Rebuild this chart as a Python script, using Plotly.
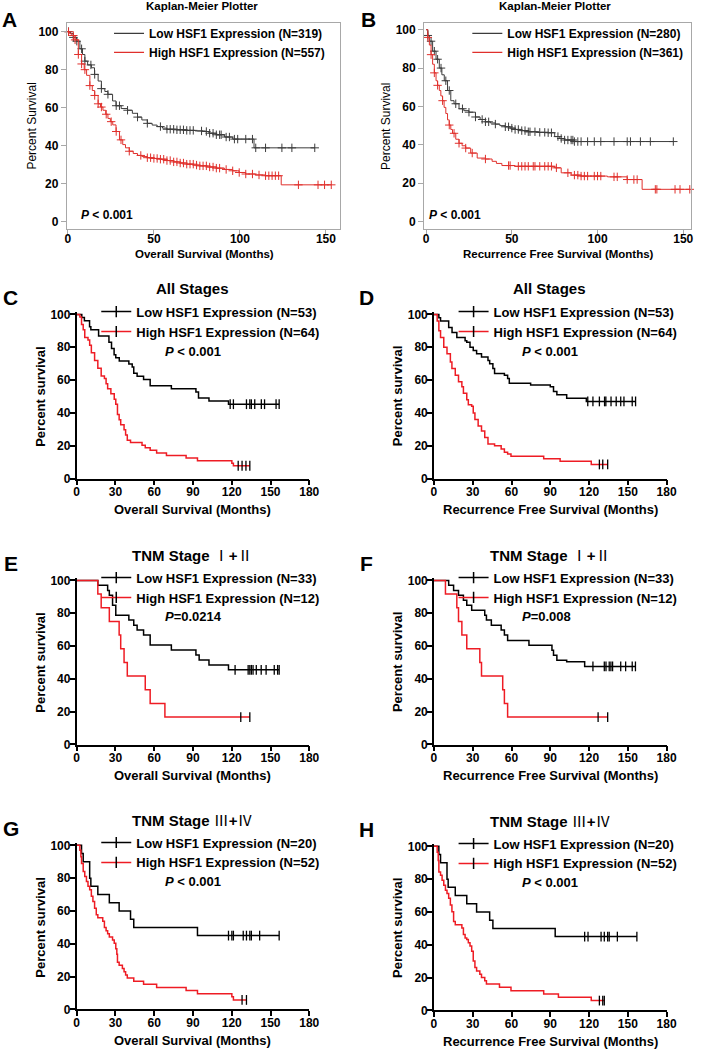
import numpy as np
import plotly.graph_objects as go

W, H = 709, 1056
FONT = "Liberation Sans, Arial, sans-serif"

# ---------------- data (months, percent survival, censor times) ----------------
# Panel A - Kaplan-Meier Plotter, overall survival
A_low_t = [0, 1.5, 3.2, 5.2, 7.0, 8.5, 9.9, 11.5, 13.7, 15.5, 17.6, 19.5, 21.5, 23.3, 26, 28, 31, 34.7, 37.5, 40.5,
           43, 46.2, 49, 51.9, 55, 57.6, 63, 69, 74, 78.6, 82, 86.3, 91, 95.8, 108.2]
A_low_s = [100, 99, 97, 95, 91, 88, 84.5, 82.5, 81, 77.5, 74, 70, 68.5, 67, 63.5, 61, 59.5, 58.6, 57, 55,
           53.5, 51.7, 50.8, 50, 49.2, 48.6, 48.3, 48, 47.7, 47.4, 46.5, 45.7, 44.5, 43.4, 38.8]
A_low_c = [0.4, 3.2, 5.2, 8.0, 9.9, 13.4, 15.6, 19.5, 23.3, 28.1, 30, 34.7, 40.5, 46.2, 53.8, 57.6, 59.5, 61.5,
           63.4, 65.3, 67.2, 69.1, 71, 72.9, 77.7, 80.5, 82.4, 84.4, 86.3, 88.2, 89.1, 92, 93.9, 96.8, 98.7,
           103.4, 107.3, 109.2, 114.9, 124.4, 130.2, 143.5]
A_high_t = [0, 1, 2.3, 4.2, 6.1, 8, 9.5, 10.9, 12.8, 14.2, 15.6, 17.6, 19, 20.4, 22, 23.3, 24.7, 26.1, 28, 30,
            31.9, 33.5, 35.7, 38, 40.5, 43, 46.2, 50, 53.8, 57.5, 61.5, 65, 69.1, 73, 76.7, 81, 86.3, 91, 95.8,
            99.5, 103.4, 109, 114.9, 124]
A_high_s = [100, 99, 98, 95.7, 88, 83, 80, 77, 71.6, 69, 66.4, 62, 60.3, 58.6, 56.5, 54.3, 52.6, 50.9, 47.4, 43,
            40.5, 38.8, 37, 35.8, 34.8, 34.2, 33.6, 33.2, 32.8, 32.1, 31.4, 30.8, 30.2, 29.7, 29.3, 28.7, 28.1,
            27.4, 26.7, 25.8, 25, 24.5, 24.1, 19.3]
A_high_c = [0.4, 3.2, 4.2, 6.1, 8.0, 9.9, 12.8, 15.6, 17.6, 19.5, 22.3, 25.2, 28.1, 30.9, 35.7, 42.4, 46.2, 48.1,
            50, 51.9, 53.8, 55.7, 57.6, 59.5, 61.5, 63.4, 65.3, 67.2, 69.1, 71, 72.9, 74.8, 76.7, 78.6, 80.5, 82.4,
            84.4, 86.3, 88.2, 92, 95.8, 99.6, 103.4, 107.3, 111.1, 114.9, 116.8, 118.7, 120.6, 122.5, 134, 145.4,
            149.2, 153.1]

# Panel B - Kaplan-Meier Plotter, recurrence free survival
B_low_t = [0, 1, 1.9, 3.8, 5.8, 7.7, 9.2, 10.6, 12.5, 14.4, 16.3, 19.2, 22, 25, 28.8, 31.5, 34.6, 37.5, 40.4, 43,
           46.2, 49, 51.9, 55.5, 59.6, 65, 71.2, 75, 78, 80.8, 86.5]
B_low_s = [100, 97, 94, 88.8, 84.6, 80, 76.5, 73.4, 68.3, 63, 61.4, 58.8, 57.8, 57, 54.5, 53.2, 52, 51.4, 50.8, 50,
           49.4, 48.7, 48, 47.4, 46.8, 46.5, 46.3, 44.3, 43.3, 42.5, 41.7]
B_low_c = [1, 2.9, 4.8, 6.7, 8.7, 11.5, 13.5, 17.3, 21.2, 25, 28.8, 32.7, 34.6, 36.5, 40.4, 46.2, 48.1, 50, 51.9,
           53.8, 55.8, 57.7, 59.6, 60.6, 63.5, 66.3, 69.2, 71.2, 73.1, 76.9, 78.8, 80.8, 82.7, 84.6, 85.6, 86.5,
           88.5, 90.4, 94.2, 98.1, 101.9, 109.6, 117.3, 119.2, 125, 130.8, 144.2]
B_high_t = [0, 1, 1.9, 2.9, 3.8, 4.8, 5.8, 6.7, 7.7, 8.6, 9.6, 10.5, 11.5, 12.5, 13.5, 14.4, 15.4, 17.3, 19.2, 21,
            23.1, 26, 29.8, 34.6, 38.5, 41, 44.2, 51.9, 75, 78.8, 84.6, 90.4, 105.8, 117.3, 126]
B_high_s = [100, 96, 92, 87, 82, 77.5, 73.4, 71, 68.3, 65.5, 63, 59.5, 56.3, 53, 50.3, 48, 46, 42.9, 40.8, 39.5,
            38.3, 35.7, 33.1, 32.6, 31.4, 30.3, 29.2, 28.8, 28.0, 25.4, 24.2, 23.7, 23.3, 21.9, 16.8]
B_high_c = [1, 2.9, 4.8, 6.7, 9.6, 13.5, 16.3, 19.2, 23.1, 26.9, 34.6, 48.1, 49, 53.8, 55.8, 57.7, 59.6, 62.5,
            63.5, 66.3, 69.2, 71.2, 73.1, 76, 82.7, 86.5, 88.5, 90.4, 92.3, 94.2, 98.1, 100, 101.9, 109.6, 111.5,
            117.3, 121.2, 123.1, 133.7, 134.6, 145.2, 148.1, 153.8]

# Panel C - All stages, overall survival
C_low_t = [0, 4, 6, 10, 11, 17, 25, 27, 29, 30.3, 33, 40.4, 43, 44.2, 46.8, 51.8, 56.9, 73.3, 92.3, 94.3, 102.4, 117.5]
C_low_s = [100, 98.1, 96.2, 92.5, 90.6, 86.8, 83.0, 79.2, 75.5, 73.6, 71.7, 69.8, 67.9, 64.2, 62.3, 60.4, 56.6,
           54.7, 52.8, 49.1, 47.2, 45.3]
C_low_c = [118.8, 121.3, 131.4, 134, 135.2, 137.8, 142.9, 145.4, 154.3, 156.7]
C_high_t = [0, 2.5, 3.8, 5.1, 6.3, 8.8, 10.1, 11.4, 13.9, 16.4, 19, 21.5, 22.8, 24, 26.5, 29.1, 30.3, 31.6, 32.9,
            34.1, 36.7, 37.9, 39.2, 41.7, 50.6, 53.1, 56.9, 61.9, 69.5, 84.7, 93.5, 120.1, 121.3]
C_high_s = [100, 98.4, 93.8, 90.6, 86, 84.4, 81.3, 76.6, 71.9, 67.2, 62.5, 60.9, 57.8, 54.7, 51.6, 48.4, 45.3, 39.1,
            35.9, 32.8, 29.7, 26.6, 23.4, 21.9, 20.3, 18.8, 17.2, 15.6, 14.1, 12.5, 10.9, 9.4, 7.8]
C_high_c = [125, 128, 131, 134]

# Panel D - All stages, recurrence free survival
D_low_t = [0, 3.8, 5.1, 11.4, 14, 17.7, 24.1, 25.4, 27.9, 30.4, 33, 36.8, 41.8, 43.1, 45.6, 46.9, 54.5, 57, 58.3,
           74.8, 90, 92.5, 95.1, 102.7, 117.9]
D_low_s = [100, 98, 96, 92, 89, 86, 84, 83, 80, 78, 76, 74, 72, 70, 67, 64, 63, 61, 58, 57, 56, 53, 51, 49, 47]
D_low_c = [119, 123, 128, 132, 133, 137, 141, 144.5, 147, 153.4, 156]
D_high_t = [0, 2.5, 3.8, 5.1, 7.6, 10.1, 12.7, 13.9, 16.5, 19, 21.6, 22.8, 25.4, 26.6, 29.2, 30.4, 31.7, 34.2, 36.8,
            39.3, 41.8, 46.9, 52, 54.5, 57, 59.6, 84.9, 97.6, 121.7]
D_high_s = [100, 96, 90, 86, 80, 76, 71, 67, 63, 59, 56, 52, 48, 45, 44, 40, 36, 32, 29, 25, 21, 20, 18, 16, 15,
            13.6, 12, 10.6, 8.6]
D_high_c = [128, 130.6, 134.4]

# Panel E - TNM I+II, overall survival
E_low_t = [0, 16.4, 24, 25.3, 27.8, 30.3, 40.4, 44.2, 46.8, 51.8, 56.9, 73.3, 92.3, 94.8, 102.4, 117.5]
E_low_s = [100, 97, 93.9, 90.9, 84.8, 78.8, 75.8, 72.7, 69.7, 66.7, 60.6, 57.6, 54.5, 51.5, 48.5, 45.5]
E_low_c = [122.6, 132.7, 134, 135.2, 136.5, 139, 142.8, 146.6, 152.9, 155.5, 156.7]
E_high_t = [0, 16.4, 19, 25.3, 32.9, 34.1, 36.7, 39.2, 53.1, 56.9, 68.3]
E_high_s = [100, 91.7, 83.3, 75, 66.7, 58.3, 50, 41.7, 33.3, 25, 16.7]
E_high_c = [127, 134]

# Panel F - TNM I+II, recurrence free survival
F_low_t = [0, 11.4, 15.2, 19, 22.8, 25.4, 29.2, 39.3, 40.6, 44.4, 52, 54.5, 57, 73.5, 91.3, 92.5, 95.1, 102.7, 116.6]
F_low_s = [100, 97, 93.9, 90.9, 87.9, 84.8, 81.8, 78.8, 75.8, 72.7, 69.7, 66.7, 63.4, 60.4, 57.4, 54.4, 51.4, 50.4,
           47.6]
F_low_c = [123, 131.8, 133.1, 135.6, 136.9, 138.2, 144.5, 148.3, 153.4, 155.9]
F_high_t = [0, 8.9, 17.7, 19, 21.6, 25.4, 35.5, 36.8, 53.2, 54.5, 57]
F_high_s = [100, 91.7, 83.3, 75, 66.7, 58.3, 50, 41.7, 33.3, 25, 16.7]
F_high_c = [127, 134.4]

# Panel G - TNM III+IV, overall survival
G_low_t = [0, 3.8, 5.1, 10.1, 11.0, 16.4, 25.3, 32.9, 41.7, 44.2, 93.5]
G_low_s = [100, 95, 90, 80, 75, 70, 65, 60, 55, 50, 45]
G_low_c = [117.5, 120.1, 121.3, 128.9, 131.4, 134, 135.2, 141.6, 156.7]
G_high_t = [0, 2.5, 3.3, 3.8, 5.1, 6.3, 7.6, 8.8, 10.1, 11.4, 12.6, 13.9, 15.2, 16.4, 20.2, 21.5, 22.8, 24.0, 25.3,
            27.8, 29.1, 30.3, 31.1, 31.6, 32.9, 35.4, 36.7, 37.9, 39.2, 44.2, 51.8, 61.9, 84.7, 93.5, 120.1, 121.3]
G_high_s = [100, 97, 93, 89, 84, 81, 78, 75, 73, 69, 65.8, 61.6, 57.7, 55.8, 53.8, 50, 48, 46.2, 44.2, 42.3, 40.4,
            37, 33.6, 28.8, 26.9, 24.9, 23, 21, 19.1, 17.2, 15.3, 13.4, 11.5, 9.6, 7.7, 5.8]
G_high_c = [128, 131.4]

# Panel H - TNM III+IV, recurrence free survival
H_low_t = [0, 3.8, 5.1, 10.1, 11.0, 16.5, 25.4, 33, 43.1, 45.6, 93.8]
H_low_s = [100, 95, 90, 80, 75, 70, 65, 60, 55, 50, 45]
H_low_c = [116.6, 119.2, 129.3, 131.8, 134.4, 135.6, 141.9, 157]
H_high_t = [0, 2.5, 3.3, 3.8, 5.1, 6.3, 7.6, 8.9, 10.1, 11.4, 12.7, 13.9, 15.2, 16.5, 21.6, 22.8, 24.1, 25.4, 26.6,
            27.9, 29.2, 30.4, 31.7, 33, 35.5, 36.8, 39.3, 40.6, 50.7, 59.6, 84.9, 96.3, 121.7]
H_high_s = [100, 96.4, 91.4, 84.3, 82.3, 79.3, 76.3, 73.3, 71.3, 68.3, 64.3, 60.2, 54.2, 52.2, 50.2, 46.2, 44.2,
            43.2, 41.2, 39.2, 36.1, 30.1, 26.1, 24.1, 22.1, 20.1, 18.1, 16.1, 14.1, 12, 10, 8, 6]
H_high_c = [128, 130.6, 131.8]

# legend labels, titles, p-values
A_labels = ["Low HSF1 Expression (N=319)", "High HSF1 Expression (N=557)"]
B_labels = ["Low HSF1 Expression (N=280)", "High HSF1 Expression (N=361)"]
CD_labels = ["Low HSF1 Expression (N=53)", "High HSF1 Expression (N=64)"]
EF_labels = ["Low HSF1 Expression (N=33)", "High HSF1 Expression (N=12)"]
GH_labels = ["Low HSF1 Expression (N=20)", "High HSF1 Expression (N=52)"]
P_values = {"A": " < 0.001", "B": " < 0.001", "C": " < 0.001", "D": " < 0.001",
            "E": "=0.0214", "F": "=0.008", "G": " < 0.001", "H": " < 0.001"}
KM_ticks_x = [0, 50, 100, 150]
KM_ticks_y = [0, 20, 40, 60, 80, 100]
GP_ticks_x = [0, 30, 60, 90, 120, 150, 180]
GP_ticks_y = [0, 20, 40, 60, 80, 100]
OS_title = "Overall Survival (Months)"
RFS_title = "Recurrence Free Survival (Months)"

ROM = '<span style="font-family:Noto Sans CJK SC;font-weight:normal">{}</span>'
STAGE12 = "TNM Stage " + ROM.format("Ⅰ") + "+" + ROM.format("Ⅱ")
STAGE34 = "TNM Stage " + ROM.format("Ⅲ") + "+" + ROM.format("Ⅳ")

# ---------------- layout (pixel geometry) ----------------
panels = [
    dict(key="A", style="km", xd=(65, 343), yd=(18, 227), xr=(-0.6, 158), yr=(-4.2, 104.7),
         labels=A_labels, low=(A_low_t, A_low_s, A_low_c), high=(A_high_t, A_high_s, A_high_c),
         title="Kaplan-Meier Plotter", xtitle=OS_title),
    dict(key="B", style="km", xd=(429, 701), yd=(18, 227), xr=(-1.15, 154.6), yr=(-4.1, 103.6),
         labels=B_labels, low=(B_low_t, B_low_s, B_low_c), high=(B_high_t, B_high_s, B_high_c),
         title="Kaplan-Meier Plotter", xtitle=RFS_title),
    dict(key="C", style="gp", xd=(75, 312), yd=(311, 479), xr=(0, 180), yr=(0, 101.2),
         labels=CD_labels, low=(C_low_t, C_low_s, C_low_c), high=(C_high_t, C_high_s, C_high_c),
         title="All Stages", xtitle=OS_title),
    dict(key="D", style="gp", xd=(439, 676), yd=(311, 479), xr=(0, 180), yr=(0, 101.2),
         labels=CD_labels, low=(D_low_t, D_low_s, D_low_c), high=(D_high_t, D_high_s, D_high_c),
         title="All Stages", xtitle=RFS_title),
    dict(key="E", style="gp", xd=(75, 312), yd=(580, 748), xr=(0, 180), yr=(0, 101.2),
         labels=EF_labels, low=(E_low_t, E_low_s, E_low_c), high=(E_high_t, E_high_s, E_high_c),
         title=STAGE12, xtitle=OS_title),
    dict(key="F", style="gp", xd=(439, 676), yd=(580, 748), xr=(0, 180), yr=(0, 101.2),
         labels=EF_labels, low=(F_low_t, F_low_s, F_low_c), high=(F_high_t, F_high_s, F_high_c),
         title=STAGE12, xtitle=RFS_title),
    dict(key="G", style="gp", xd=(75, 312), yd=(848, 1016), xr=(0, 180), yr=(0, 101.2),
         labels=GH_labels, low=(G_low_t, G_low_s, G_low_c), high=(G_high_t, G_high_s, G_high_c),
         title=STAGE34, xtitle=OS_title),
    dict(key="H", style="gp", xd=(439, 676), yd=(849, 1017), xr=(0, 180), yr=(0, 101.2),
         labels=GH_labels, low=(H_low_t, H_low_s, H_low_c), high=(H_high_t, H_high_s, H_high_c),
         title=STAGE34, xtitle=RFS_title),
]

KM_BLACK, KM_RED = "#3c3c3c", "#e0302c"
GP_BLACK, GP_RED = "#000000", "#ee1c24"


def fx(px):
    return px / W


def fy(py):
    return 1 - py / H


def ann(text, x, y, size, bold=True, xanchor="center", yanchor="middle", angle=0):
    return dict(text=text, x=fx(x), y=fy(y), xref="paper", yref="paper", showarrow=False,
                xanchor=xanchor, yanchor=yanchor, textangle=angle,
                font=dict(family=FONT, size=size, color="black", weight="bold" if bold else "normal"))


fig = go.Figure()
annotations = []
layout = {}

for i, p in enumerate(panels):
    n = i + 1
    xa, ya = ("x", "y") if n == 1 else (f"x{n}", f"y{n}")
    xkey, ykey = ("xaxis", "yaxis") if n == 1 else (f"xaxis{n}", f"yaxis{n}")
    legkey = "legend" if n == 1 else f"legend{n}"
    km = p["style"] == "km"
    colors = (KM_BLACK, KM_RED) if km else (GP_BLACK, GP_RED)
    lw = 1 if km else 1.5

    for (t, s, c), col, lab in zip((p["low"], p["high"]), colors, p["labels"]):
        t = np.asarray(t, float)
        s = np.asarray(s, float)
        c = np.asarray(c, float)
        end = max(t[-1], c.max())
        xs = np.append(t, end)
        ys = np.append(s, s[-1])
        fig.add_trace(go.Scatter(x=xs, y=ys, mode="lines", line=dict(color=col, width=lw, shape="hv"),
                                 xaxis=xa, yaxis=ya, showlegend=False, hoverinfo="skip"))
        cy = s[np.searchsorted(t, c, side="right") - 1]
        if km:
            mk = dict(symbol="cross-thin", size=6, color=col, line=dict(color=col, width=1))
        else:
            mk = dict(symbol="line-ns", size=7, color="black", line=dict(color="black", width=1.3))
        fig.add_trace(go.Scatter(x=c, y=cy, mode="markers", marker=mk, xaxis=xa, yaxis=ya,
                                 showlegend=False, hoverinfo="skip", cliponaxis=False))
        if km:
            fig.add_trace(go.Scatter(x=[None], y=[None], mode="lines", name=lab,
                                     line=dict(color=col, width=1.2), xaxis=xa, yaxis=ya, legend=legkey))
        else:
            fig.add_trace(go.Scatter(x=[None], y=[None], mode="lines+markers", name=lab,
                                     line=dict(color=col, width=1.5),
                                     marker=dict(symbol="line-ns", size=8, color="black",
                                                 line=dict(color="black", width=1.5)),
                                     xaxis=xa, yaxis=ya, legend=legkey))

    x0, x1 = p["xd"]
    t0, t1 = p["yd"]
    if km:
        common = dict(showline=True, mirror=True, linecolor="#a8a8a8", linewidth=1, ticks="outside",
                      ticklen=5, tickcolor="#a8a8a8", tickwidth=1, showgrid=False, zeroline=False,
                      tickfont=dict(family=FONT, size=12, color="black", weight="bold"))
        layout[xkey] = dict(domain=[fx(x0), fx(x1)], range=list(p["xr"]), tickvals=KM_ticks_x,
                            anchor=ya, ticklabelstandoff=-7, **common)
        layout[ykey] = dict(domain=[fy(t1), fy(t0)], range=list(p["yr"]), tickvals=KM_ticks_y,
                            anchor=xa, **common)
    else:
        common = dict(showline=True, mirror=False, linecolor="black", linewidth=1.5, ticks="outside",
                      ticklen=5, tickcolor="black", tickwidth=1.5, showgrid=False, zeroline=False,
                      tickfont=dict(family=FONT, size=12, color="black", weight="bold"))
        layout[xkey] = dict(domain=[fx(x0), fx(x1)], range=list(p["xr"]), tickvals=GP_ticks_x,
                            anchor=ya, ticklabelstandoff=-4, **common)
        layout[ykey] = dict(domain=[fy(t1), fy(t0)], range=list(p["yr"]), tickvals=GP_ticks_y,
                            anchor=xa, ticklabelstandoff=-3, **common)

    left = x0 < 354
    if km:
        lx = 108 if left else 473
        layout[legkey] = dict(x=fx(lx), y=fy(14), xanchor="left", yanchor="top",
                              bgcolor="rgba(0,0,0,0)", itemwidth=30,
                              font=dict(family=FONT, size=12, color="black", weight="bold"))
        cx = 203 if left else 562
        annotations.append(ann(p["title"], cx, 1, 11.5))
        annotations.append(ann(p["xtitle"], (x0 + x1) / 2 + 1, 252, 11.5))
        annotations.append(ann("Percent Survival", 30 if left else 390, (t0 + t1) / 2, 12, bold=False, angle=-90))
        annotations.append(ann("<i>P</i>" + P_values[p["key"]], 77 if left else 432, 212, 12, xanchor="left"))
        annotations.append(ann(p["key"], 7 if left else 372, 15, 21))
    else:
        lx = 95 if left else 459
        zero = t1
        layout[legkey] = dict(x=fx(lx), y=fy(zero - 184), xanchor="left", yanchor="top",
                              bgcolor="rgba(0,0,0,0)", itemwidth=30,
                              font=dict(family=FONT, size=13, color="black", weight="bold"))
        cx = 193 if left else 557
        annotations.append(ann(p["title"], cx, zero - 192, 15))
        annotations.append(ann(p["xtitle"], (x0 + x1) / 2, zero + 31, 13))
        annotations.append(ann("Percent survival", 38 if left else 402, zero - 83, 13, angle=-90))
        annotations.append(ann("<i>P</i>" + P_values[p["key"]], 163 if left else 527, zero - 129, 13,
                               xanchor="left"))
        annotations.append(ann(p["key"], 8 if left else 370, zero - 183, 21))

fig.update_layout(**layout)
fig.update_layout(width=W, height=H, margin=dict(l=0, r=0, t=0, b=0), autosize=False,
                  paper_bgcolor="white", plot_bgcolor="white", annotations=annotations,
                  font=dict(family=FONT, color="black"))

fig.write_html("out.html", config={"displayModeBar": False},
               post_script="document.body.style.margin='0';")
